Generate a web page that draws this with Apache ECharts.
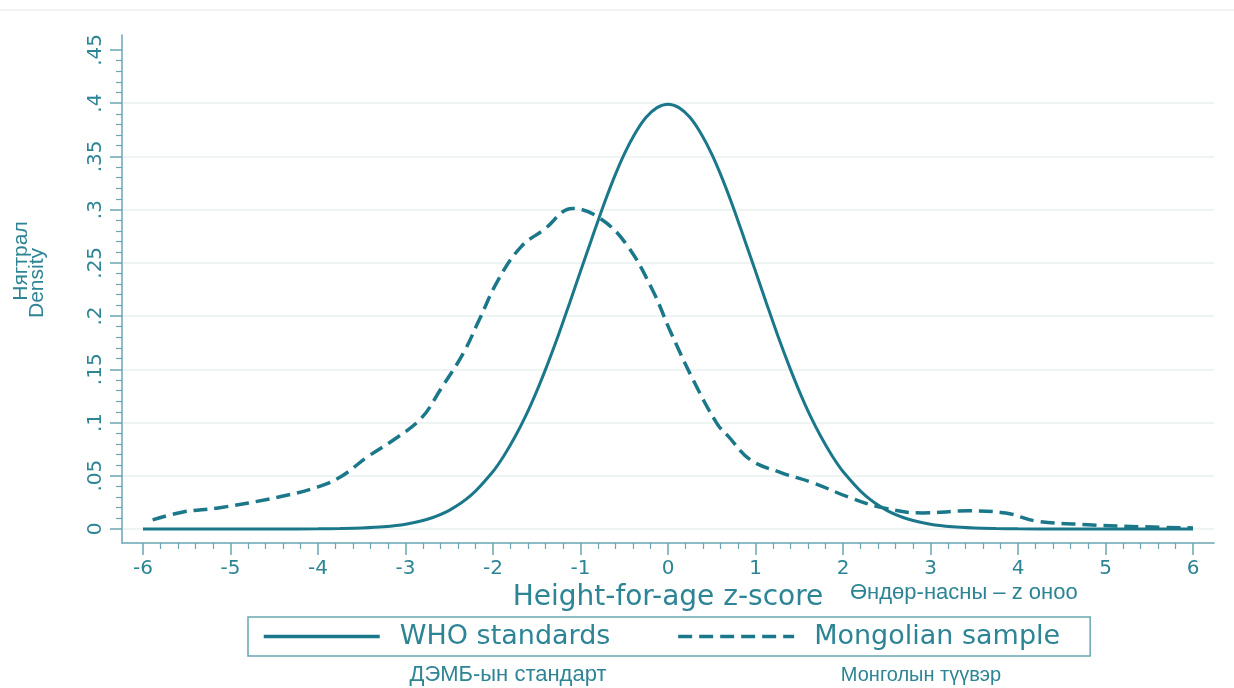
<!DOCTYPE html>
<html>
<head>
<meta charset="utf-8">
<script src="https://cdn.jsdelivr.net/npm/echarts@6/dist/echarts.min.js"></script>
<style>
html,body{margin:0;padding:0;background:#fff;}
#chart{width:1234px;height:688px;}
</style>
</head>
<body>
<div id="chart"></div>
<script>
// ---- data ----
const xTicks = [-6,-5,-4,-3,-2,-1,0,1,2,3,4,5,6];
const yTicks = [0,0.05,0.1,0.15,0.2,0.25,0.3,0.35,0.4,0.45];
const yGridTicks = [0,0.05,0.1,0.15,0.2,0.25,0.3,0.35,0.4];

const whoX = [-6,-5.5,-5,-4.5,-4,-3.75,-3.5,-3.25,-3,-2.75,-2.5,-2.25,-2,-1.875,-1.75,-1.625,-1.5,-1.375,-1.25,-1.125,-1,-0.875,-0.75,-0.625,-0.5,-0.375,-0.25,-0.125,0,0.125,0.25,0.375,0.5,0.625,0.75,0.875,1,1.125,1.25,1.375,1.5,1.625,1.75,1.875,2,2.25,2.5,2.75,3,3.25,3.5,3.75,4,4.5,5,5.5,6];
const whoDensity = [0,0,0,0,0.0001,0.0004,0.0009,0.002,0.0044,0.0091,0.0175,0.0317,0.054,0.0688,0.0863,0.1064,0.1295,0.1551,0.1826,0.2121,0.242,0.2717,0.3011,0.3282,0.3521,0.3717,0.3867,0.3958,0.399,0.3958,0.3867,0.3717,0.3521,0.3282,0.3011,0.2717,0.242,0.2121,0.1826,0.1551,0.1295,0.1064,0.0863,0.0688,0.054,0.0317,0.0175,0.0091,0.0044,0.002,0.0009,0.0004,0.0001,0,0,0,0];

const mongolX = [-5.89,-5.54,-5.14,-4.45,-4.0,-3.74,-3.43,-3.13,-2.82,-2.6,-2.34,-2.16,-1.94,-1.68,-1.42,-1.09,-0.8,-0.49,-0.18,0.03,0.3,0.56,0.69,0.94,1.29,1.67,2.06,2.45,2.91,3.43,3.86,4.2,4.8,5.44,6.0];
const mongolDensity = [0.0085,0.016,0.0197,0.030,0.0395,0.049,0.068,0.084,0.104,0.131,0.165,0.196,0.234,0.265,0.281,0.301,0.293,0.269,0.225,0.185,0.138,0.099,0.087,0.065,0.053,0.043,0.030,0.020,0.015,0.017,0.015,0.0075,0.004,0.002,0.001];

const seriesNames = ['WHO standards','Mongolian sample'];

// ---- styling ----
const LINE = '#1b778a';
const TXT = '#2c8494';
const AXIS = '#6aa6b3';
const GRID = '#eef3f4';
const FONT = 'DejaVu Sans';
const NARROW = '"Liberation Sans Narrow","Arial Narrow","Liberation Sans",sans-serif';

const xMinor = [];
for (let i = 0; i < xTicks.length - 1; i++) {
  for (let k = 1; k < 5; k++) xMinor.push(+(xTicks[i] + k * (xTicks[i+1]-xTicks[i]) / 5).toFixed(3));
}
const yMinor = [];
for (let i = 0; i < yTicks.length - 1; i++) {
  for (let k = 1; k < 5; k++) yMinor.push(+(yTicks[i] + k * (yTicks[i+1]-yTicks[i]) / 5).toFixed(4));
}

const whoData = whoX.map((x, i) => [x, whoDensity[i]]);
const mongolData = mongolX.map((x, i) => [x, mongolDensity[i]]);

const XMIN = -6.24, XMAX = 6.24, YMIN = -0.0132, YMAX = 0.464;

const chart = echarts.init(document.getElementById('chart'), null, {renderer: 'canvas'});
chart.setOption({
  animation: false,
  backgroundColor: '#fff',
  grid: {left: 122, right: 20, top: 35, bottom: 145, containLabel: false},
  xAxis: [
    {
      type: 'value', min: XMIN, max: XMAX, position: 'bottom',
      axisLine: {show: true, onZero: false, lineStyle: {color: AXIS, width: 1.5}},
      axisTick: {show: true, customValues: xTicks, length: 12, lineStyle: {color: AXIS, width: 1.5}},
      axisLabel: {show: true, customValues: xTicks, margin: 16, color: TXT, fontFamily: FONT, fontSize: 20,
        formatter: v => String(v)},
      splitLine: {show: false},
      name: 'Height-for-age z-score', nameLocation: 'middle', nameGap: 29,
      nameTextStyle: {color: TXT, fontFamily: FONT, fontSize: 28}
    },
    {
      type: 'value', min: XMIN, max: XMAX, position: 'bottom',
      axisLine: {show: false, onZero: false},
      axisTick: {show: true, customValues: xMinor, length: 6, lineStyle: {color: AXIS, width: 1.2}},
      axisLabel: {show: false},
      splitLine: {show: false}
    }
  ],
  yAxis: [
    {
      type: 'value', min: YMIN, max: YMAX, position: 'left',
      axisLine: {show: true, onZero: false, lineStyle: {color: AXIS, width: 1.5}},
      axisTick: {show: true, customValues: yTicks, length: 12, lineStyle: {color: AXIS, width: 1.5}},
      axisLabel: {show: true, customValues: yTicks, rotate: 90, margin: 16, color: TXT, fontFamily: FONT, fontSize: 20,
        formatter: v => v === 0 ? '0' : String(v).replace(/^0/, '')},
      splitLine: {show: false}
    },
    {
      type: 'value', min: YMIN, max: YMAX, position: 'left',
      axisLine: {show: false, onZero: false},
      axisTick: {show: true, customValues: yMinor, length: 6, lineStyle: {color: AXIS, width: 1.2}},
      axisLabel: {show: false},
      splitLine: {show: false}
    },
    {
      type: 'value', min: YMIN, max: YMAX, position: 'left',
      axisLine: {show: false, onZero: false},
      axisTick: {show: false, customValues: yGridTicks},
      axisLabel: {show: false, customValues: yGridTicks},
      splitLine: {show: true, lineStyle: {color: GRID, width: 2}}
    }
  ],
  legend: {
    data: seriesNames,
    left: 248, top: 617,
    orient: 'horizontal',
    padding: [6, 30, 6, 14],
    itemWidth: 116, itemHeight: 14, itemGap: 66,
    borderColor: AXIS, borderWidth: 1.5, borderRadius: 0,
    selectedMode: false,
    itemStyle: {opacity: 0},
    lineStyle: {width: 3.5},
    textStyle: {color: TXT, fontFamily: FONT, fontSize: 27, padding: [0, 0, 0, 15]}
  },
  series: [
    {
      name: seriesNames[0], type: 'line', data: whoData, smooth: 0.3,
      symbol: 'none', showSymbol: false, xAxisIndex: 0, yAxisIndex: 0,
      lineStyle: {color: LINE, width: 3}, itemStyle: {color: LINE}, z: 3
    },
    {
      name: seriesNames[1], type: 'line', data: mongolData, smooth: 0.4,
      symbol: 'none', showSymbol: false, xAxisIndex: 0, yAxisIndex: 0,
      lineStyle: {color: LINE, width: 3.5, type: [14, 7]}, itemStyle: {color: LINE}, z: 3
    }
  ],
  graphic: [
    {type: 'rect', shape: {x: 0, y: 9, width: 1234, height: 2}, style: {fill: '#f3f3f3'}, silent: true},
    {type: 'text', x: 21, y: 261, rotation: Math.PI / 2,
      style: {text: 'Нягтрал', fill: TXT, font: '21px "Liberation Sans", sans-serif', align: 'center', verticalAlign: 'middle'}},
    {type: 'text', x: 37, y: 283, rotation: Math.PI / 2,
      style: {text: 'Density', fill: TXT, font: '21px "Liberation Sans", sans-serif', align: 'center', verticalAlign: 'middle'}},
    {type: 'text', x: 850, y: 593,
      style: {text: 'Өндөр-насны – z оноо', fill: TXT, font: '22px ' + NARROW, align: 'left', verticalAlign: 'middle'}},
    {type: 'text', x: 508, y: 675,
      style: {text: 'ДЭМБ-ын стандарт', fill: TXT, font: '22px ' + NARROW, align: 'center', verticalAlign: 'middle'}},
    {type: 'text', x: 921, y: 675,
      style: {text: 'Монголын түүвэр', fill: TXT, font: '20px ' + NARROW, align: 'center', verticalAlign: 'middle'}}
  ]
});
</script>
</body>
</html>
